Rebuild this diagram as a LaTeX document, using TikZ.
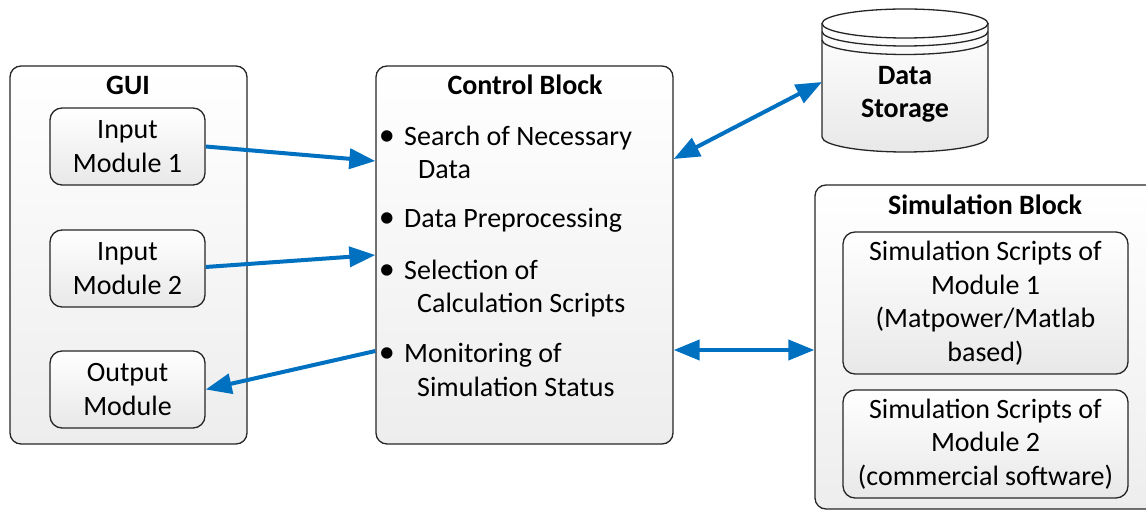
\documentclass[tikz,border=0pt]{standalone}
\usepackage{fontspec}
\setmainfont{Carlito}
\usetikzlibrary{arrows.meta}
\definecolor{arrowblue}{HTML}{0070C0}
\definecolor{edge}{HTML}{262626}
\begin{document}
\begin{tikzpicture}[x=1pt,y=-1pt,
  txt/.style={font=\fontsize{28}{33.5}\selectfont},
  btxt/.style={font=\fontsize{28}{33.5}\selectfont\bfseries},
  outerbox/.style={draw=edge,line width=1.3pt,rounded corners=11pt,top color=white,bottom color=black!7,inner sep=0pt},
  innerbox/.style={draw=edge,line width=1.3pt,rounded corners=12pt,top color=white,bottom color=black!9,inner sep=0pt,align=center,font=\fontsize{28}{33.5}\selectfont},
  link/.style={draw=arrowblue,line width=4pt},
  tip/.style={-{Triangle[length=26pt,width=20pt]}},
  tips/.style={{Triangle[length=26pt,width=20pt]}-{Triangle[length=26pt,width=20pt]}}
]
\useasboundingbox (0,0) rectangle (1146,510);

% outer blocks
\node[outerbox,minimum width=237pt,minimum height=378pt] (gui) at (128.5,255) {};
\node[outerbox,minimum width=297pt,minimum height=378pt] (ctrl) at (524.5,255) {};
\node[outerbox,minimum width=345pt,minimum height=324pt] (sim) at (987.5,347) {};

% titles
\node[btxt,anchor=base] (guit) at (128,95) {GUI};
\node[btxt,anchor=base] (ctrlt) at (525,95) {Control Block};
\node[btxt,anchor=base] (simt) at (985,215) {Simulation Block};

% GUI modules
\node[innerbox,minimum width=155pt,minimum height=77pt] (in1) at (127.5,146.5) {Input\\Module 1};
\node[innerbox,minimum width=155pt,minimum height=77pt] (in2) at (127.5,268.5) {Input\\Module 2};
\node[innerbox,minimum width=155pt,minimum height=77pt] (out) at (127.5,389.5) {Output\\Module};

% simulation modules
\node[innerbox,minimum width=285pt,minimum height=142pt] (s1) at (985.5,303) {Simulation Scripts of\\Module 1\\(Matpower/Matlab\\based)};
\node[innerbox,minimum width=285pt,minimum height=108pt] (s2) at (985.5,444) {Simulation Scripts of\\Module 2\\(commercial software)};

% control block items
\foreach \n/\y in {b1/146,b2/228,b3/280,b4/363}{
  \node[txt,anchor=base,inner sep=0pt,scale=1.15] (\n) at (387,\y) {\textbullet};
}
\node[txt,anchor=base west,inner sep=0pt] (c1) at (404,146) {Search of Necessary};
\node[txt,anchor=base west,inner sep=0pt] (c1b) at (418,179) {Data};
\node[txt,anchor=base west,inner sep=0pt] (c2) at (404,228) {Data Preprocessing};
\node[txt,anchor=base west,inner sep=0pt] (c3) at (404,280) {Selection of};
\node[txt,anchor=base west,inner sep=0pt] (c3b) at (417,313) {Calculation Scripts};
\node[txt,anchor=base west,inner sep=0pt] (c4) at (404,363) {Monitoring of};
\node[txt,anchor=base west,inner sep=0pt] (c4b) at (417,397) {Simulation Status};

% data storage cylinder
\shade[top color=white,bottom color=black!9] (822,23.5) -- (822,137) arc[start angle=180,end angle=0,x radius=83,y radius=15] -- (988,23.5) arc[start angle=0,end angle=180,x radius=83,y radius=14.5] -- cycle;
\draw[edge,line width=1.3pt] (822,23.5) -- (822,137) arc[start angle=180,end angle=0,x radius=83,y radius=15] -- (988,23.5);
\draw[edge,line width=1.3pt,fill=white] (905,23.5) ellipse[x radius=83,y radius=14.5];
\draw[edge,line width=1.3pt] (822,31.5) arc[start angle=180,end angle=0,x radius=83,y radius=14.5];
\draw[edge,line width=1.3pt] (822,40) arc[start angle=180,end angle=0,x radius=83,y radius=14.5];
\node[btxt,align=center] (ds) at (905,94.5) {Data\\Storage};
\coordinate (dsl) at (822,82);

% connectors
\draw[link,tip] (in1.east) -- (ctrl.west |- 0,161);
\draw[link,tip] (in2.east |- 0,267) -- (ctrl.west |- 0,255);
\draw[link,tip] (ctrl.west |- 0,351) -- (out.east);
\draw[link,tips] (ctrl.east |- 0,159) -- (dsl);
\draw[link,tips] (ctrl.east |- 0,350) -- (sim.west |- 0,350);
\end{tikzpicture}
\end{document}
